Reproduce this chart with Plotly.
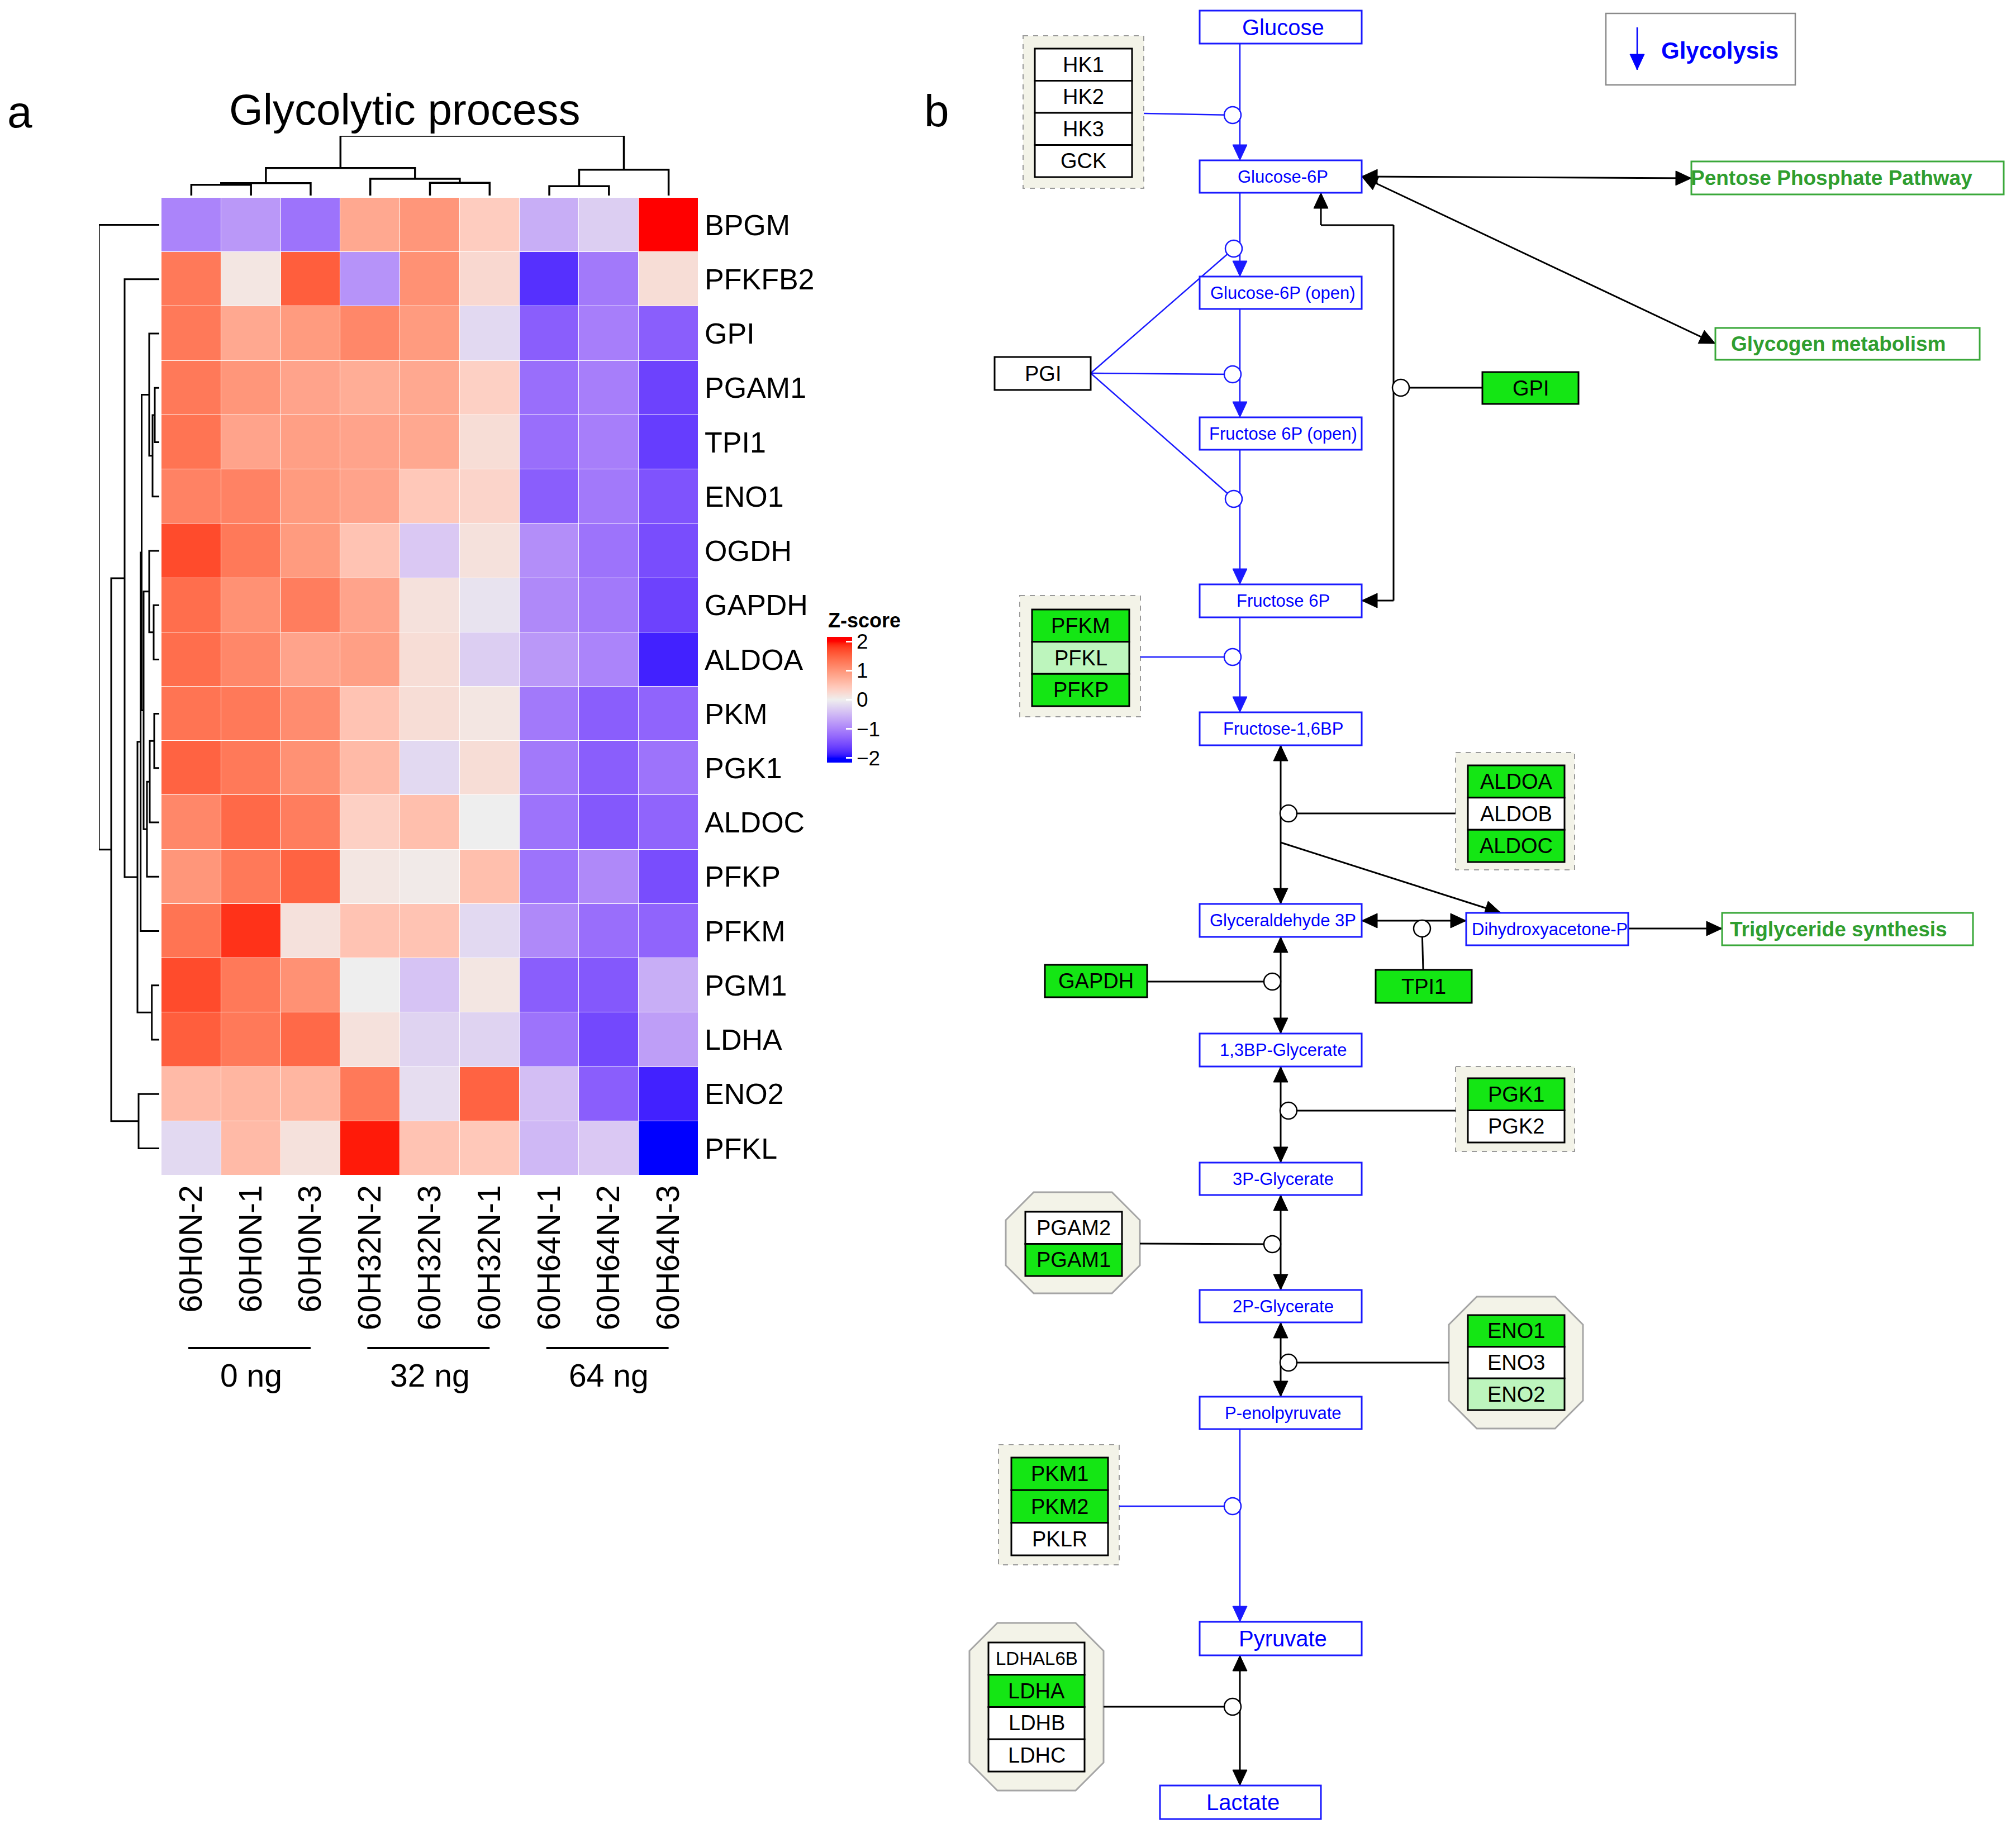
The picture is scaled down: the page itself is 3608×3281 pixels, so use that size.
import numpy as np
import plotly.graph_objects as go

W, H = 3608, 3281
OFF = 8  # page body margin of the html page shifts the figure by this many pixels

# ---------------- DATA ----------------
genes = ["BPGM", "PFKFB2", "GPI", "PGAM1", "TPI1", "ENO1", "OGDH", "GAPDH", "ALDOA",
         "PKM", "PGK1", "ALDOC", "PFKP", "PFKM", "PGM1", "LDHA", "ENO2", "PFKL"]
samples = ["60H0N-2", "60H0N-1", "60H0N-3", "60H32N-2", "60H32N-3", "60H32N-1",
           "60H64N-1", "60H64N-2", "60H64N-3"]
zscore = [
    [-1.00, -0.80, -1.15, 0.80, 1.00, 0.40, -0.60, -0.30, 2.10],
    [1.30, 0.10, 1.55, -0.85, 1.05, 0.25, -1.75, -1.10, 0.20],
    [1.30, 0.80, 0.95, 1.15, 0.95, -0.20, -1.35, -1.05, -1.35],
    [1.30, 1.00, 0.85, 0.75, 0.80, 0.35, -1.20, -1.05, -1.60],
    [1.35, 0.85, 0.90, 0.85, 0.80, 0.20, -1.20, -1.05, -1.65],
    [1.20, 1.20, 0.95, 0.85, 0.45, 0.30, -1.35, -1.10, -1.45],
    [1.70, 1.30, 0.95, 0.50, -0.35, 0.15, -0.90, -1.15, -1.50],
    [1.40, 1.05, 1.25, 0.85, 0.15, -0.10, -0.95, -1.10, -1.60],
    [1.40, 1.15, 0.85, 0.90, 0.20, -0.30, -0.80, -1.00, -1.85],
    [1.35, 1.30, 1.10, 0.50, 0.20, 0.10, -1.10, -1.35, -1.30],
    [1.50, 1.30, 1.05, 0.60, -0.20, 0.20, -1.10, -1.35, -1.15],
    [1.15, 1.45, 1.25, 0.35, 0.55, 0.00, -1.15, -1.40, -1.30],
    [1.00, 1.30, 1.50, 0.10, 0.05, 0.55, -1.15, -0.95, -1.50],
    [1.35, 1.85, 0.15, 0.50, 0.50, -0.20, -0.95, -1.20, -1.30],
    [1.70, 1.30, 1.05, 0.00, -0.40, 0.10, -1.35, -1.40, -0.60],
    [1.55, 1.30, 1.45, 0.15, -0.25, -0.25, -1.15, -1.55, -0.75],
    [0.60, 0.65, 0.65, 1.30, -0.15, 1.50, -0.45, -1.35, -1.85],
    [-0.20, 0.60, 0.15, 1.95, 0.50, 0.45, -0.50, -0.35, -2.10],
]
# hierarchical clustering merges: (child a, child b, merge height); "mK" = K-th merge
row_merges = [
    ("PGAM1", "TPI1", 8.0), ("m0", "ENO1", 12.0), ("GPI", "m1", 18.0),
    ("GAPDH", "ALDOA", 10.0), ("OGDH", "m3", 18.0), ("PKM", "PGK1", 9.0),
    ("m5", "ALDOC", 17.0), ("m6", "PFKP", 22.0), ("m4", "m7", 28.0),
    ("m2", "m8", 31.5), ("m9", "PFKM", 33.3), ("PGM1", "LDHA", 13.3),
    ("m10", "m11", 39.0), ("PFKFB2", "m12", 62.0), ("ENO2", "PFKL", 37.0),
    ("m13", "m14", 86.0), ("BPGM", "m15", 108.0),
]
col_merges = [
    ("60H0N-2", "60H0N-1", 19.3), ("m0", "60H0N-3", 22.3),
    ("60H32N-3", "60H32N-1", 22.7), ("60H32N-2", "m2", 30.0),
    ("m1", "m3", 49.0), ("60H64N-1", "60H64N-2", 16.7),
    ("m5", "60H64N-3", 46.0), ("m4", "m6", 106.7),
]
dose_groups = ["0 ng", "32 ng", "64 ng"]
group_samples = [["60H0N-2", "60H0N-1", "60H0N-3"],
                 ["60H32N-2", "60H32N-3", "60H32N-1"],
                 ["60H64N-1", "60H64N-2", "60H64N-3"]]
cbar_ticks = [-2, -1, 0, 1, 2]

# pathway content
metabolites = ["Glucose", "Glucose-6P", "Glucose-6P (open)", "Fructose 6P (open)",
               "Fructose 6P", "Fructose-1,6BP", "Glyceraldehyde 3P", "Dihydroxyacetone-P",
               "1,3BP-Glycerate", "3P-Glycerate", "2P-Glycerate", "P-enolpyruvate",
               "Pyruvate", "Lactate"]
side_pathways = ["Pentose Phosphate Pathway", "Glycogen metabolism", "Triglyceride synthesis"]
enzyme_groups = {
    "HK": ["HK1", "HK2", "HK3", "GCK"],
    "PGI": ["PGI"],
    "GPI": ["GPI"],
    "PFK": ["PFKM", "PFKL", "PFKP"],
    "ALDO": ["ALDOA", "ALDOB", "ALDOC"],
    "TPI": ["TPI1"],
    "GAPDH": ["GAPDH"],
    "PGK": ["PGK1", "PGK2"],
    "PGAM": ["PGAM2", "PGAM1"],
    "ENO": ["ENO1", "ENO3", "ENO2"],
    "PK": ["PKM1", "PKM2", "PKLR"],
    "LDH": ["LDHAL6B", "LDHA", "LDHB", "LDHC"],
}
gene_highlight = {"GPI": "strong", "PFKM": "strong", "PFKL": "weak", "PFKP": "strong",
                  "ALDOA": "strong", "ALDOC": "strong", "GAPDH": "strong", "TPI1": "strong",
                  "PGK1": "strong", "PGAM1": "strong", "ENO1": "strong", "ENO2": "weak",
                  "PKM1": "strong", "PKM2": "strong", "LDHA": "strong"}

# ---------------- LAYOUT GEOMETRY (pixels of the page) ----------------
met_box = {
    "Glucose": (2147, 19, 2437, 78, 40),
    "Glucose-6P": (2147, 287, 2437, 345, 31),
    "Glucose-6P (open)": (2147, 495, 2437, 553, 31),
    "Fructose 6P (open)": (2147, 747, 2437, 805, 31),
    "Fructose 6P": (2147, 1046, 2437, 1105, 31),
    "Fructose-1,6BP": (2147, 1275, 2437, 1334, 31),
    "Glyceraldehyde 3P": (2147, 1618, 2437, 1677, 31),
    "Dihydroxyacetone-P": (2624, 1634, 2914, 1692, 31),
    "1,3BP-Glycerate": (2147, 1850, 2437, 1909, 31),
    "3P-Glycerate": (2147, 2081, 2437, 2139, 31),
    "2P-Glycerate": (2147, 2309, 2437, 2367, 31),
    "P-enolpyruvate": (2147, 2500, 2437, 2558, 31),
    "Pyruvate": (2147, 2903, 2437, 2963, 40),
    "Lactate": (2076, 3196, 2364, 3256, 40),
}
side_box = {
    "Pentose Phosphate Pathway": (3027, 289, 3586, 348, 3278),
    "Glycogen metabolism": (3070, 587, 3543, 644, 3290),
    "Triglyceride synthesis": (3082, 1634, 3531, 1692, 3290),
}
group_geom = {  # frame type, frame box, cell box
    "HK": ("rect", (1831, 64, 2047, 337), (1852, 87, 2026, 317)),
    "PGI": (None, None, (1780, 639, 1952, 698)),
    "GPI": (None, None, (2653, 666, 2825, 723)),
    "PFK": ("rect", (1825, 1066, 2041, 1283), (1847, 1091, 2021, 1264)),
    "ALDO": ("rect", (2605, 1347, 2818, 1557), (2627, 1370, 2800, 1543)),
    "TPI": (None, None, (2462, 1736, 2634, 1795)),
    "GAPDH": (None, None, (1870, 1727, 2053, 1785)),
    "PGK": ("rect", (2605, 1909, 2818, 2061), (2627, 1930, 2800, 2045)),
    "PGAM": ("oct", (1800, 2134, 2040, 2315), (1835, 2169, 2008, 2284)),
    "ENO": ("oct", (2593, 2321, 2833, 2557), (2627, 2354, 2800, 2524)),
    "PK": ("rect", (1787, 2586, 2003, 2801), (1810, 2609, 1983, 2784)),
    "LDH": ("oct", (1735, 2905, 1975, 3205), (1769, 2940, 1941, 3171)),
}
catalysis = [  # enzyme, link start, circle centre, colour
    ("HK", (2047, 203), (2206, 206), "blue"),
    ("PGI", (1952, 668), (2208, 445), "blue"),
    ("PGI", (1952, 668), (2206, 670), "blue"),
    ("PGI", (1952, 668), (2208, 893), "blue"),
    ("GPI", (2653, 694), (2507, 694), "black"),
    ("PFK", (2041, 1176), (2206, 1176), "blue"),
    ("ALDO", (2605, 1456), (2306, 1456), "black"),
    ("TPI", (2547, 1736), (2545, 1662), "black"),
    ("GAPDH", (2053, 1757), (2277, 1757), "black"),
    ("PGK", (2605, 1988), (2306, 1988), "black"),
    ("PGAM", (2040, 2226), (2277, 2227), "black"),
    ("ENO", (2593, 2439), (2306, 2439), "black"),
    ("PK", (2003, 2696), (2206, 2696), "blue"),
    ("LDH", (1975, 3055), (2206, 3055), "black"),
]
main_chain = [  # from, to, x of line, colour, reversible
    ("Glucose", "Glucose-6P", 2219, "blue", False),
    ("Glucose-6P", "Glucose-6P (open)", 2219, "blue", False),
    ("Glucose-6P (open)", "Fructose 6P (open)", 2219, "blue", False),
    ("Fructose 6P (open)", "Fructose 6P", 2219, "blue", False),
    ("Fructose 6P", "Fructose-1,6BP", 2219, "blue", False),
    ("Fructose-1,6BP", "Glyceraldehyde 3P", 2292, "black", True),
    ("Glyceraldehyde 3P", "1,3BP-Glycerate", 2292, "black", True),
    ("1,3BP-Glycerate", "3P-Glycerate", 2292, "black", True),
    ("3P-Glycerate", "2P-Glycerate", 2292, "black", True),
    ("2P-Glycerate", "P-enolpyruvate", 2292, "black", True),
    ("P-enolpyruvate", "Pyruvate", 2219, "blue", False),
    ("Pyruvate", "Lactate", 2219, "black", True),
]

FONT = "Liberation Sans, Arial, Helvetica, sans-serif"
BLUE = "#0000ff"
C_LINE = {"blue": "#1a1aff", "black": "#000000"}
GENE_FILL = {"strong": "#14e614", "weak": "#bdf5bd", None: "#ffffff"}
SIDE_GREEN = "#2f9e2f"
FRAME_FILL = "#f3f3e8"


def fx(px):  # page pixel -> paper x
    return (px - OFF) / W


def fy(py):  # page pixel -> paper y
    return 1 - (py - OFF) / H


# ---------------- colour scale (LAB interpolation blue - #EEEEEE - red) ----------------
def srgb_to_lab(hexc):
    c = np.array([int(hexc[i:i + 2], 16) for i in (1, 3, 5)]) / 255.0
    lin = np.where(c <= 0.04045, c / 12.92, ((c + 0.055) / 1.055) ** 2.4)
    M = np.array([[0.4124564, 0.3575761, 0.1804375],
                  [0.2126729, 0.7151522, 0.0721750],
                  [0.0193339, 0.1191920, 0.9503041]])
    t = (M @ lin) / np.array([0.95047, 1.0, 1.08883])
    d = 6 / 29
    f = np.where(t > d ** 3, np.cbrt(t), t / (3 * d * d) + 4 / 29)
    return np.array([116 * f[1] - 16, 500 * (f[0] - f[1]), 200 * (f[1] - f[2])])


def lab_to_hex(lab):
    L, a, b = lab
    fyy = (L + 16) / 116
    f = np.array([fyy + a / 500, fyy, fyy - b / 200])
    d = 6 / 29
    t = np.where(f > d, f ** 3, 3 * d * d * (f - 4 / 29)) * np.array([0.95047, 1.0, 1.08883])
    Minv = np.array([[3.2404542, -1.5371385, -0.4985314],
                     [-0.9692660, 1.8760108, 0.0415560],
                     [0.0556434, -0.2040259, 1.0572252]])
    lin = np.clip(Minv @ t, 0, 1)
    c = np.where(lin <= 0.0031308, 12.92 * lin, 1.055 * lin ** (1 / 2.4) - 0.055)
    c = np.clip(np.round(c * 255), 0, 255).astype(int)
    return "#%02x%02x%02x" % tuple(c)


LAB_LO, LAB_MID, LAB_HI = srgb_to_lab("#0000ff"), srgb_to_lab("#eeeeee"), srgb_to_lab("#ff0000")


def zcolor(v):
    v = max(-2.0, min(2.0, v))
    if v <= 0:
        t = (v + 2) / 2
        return lab_to_hex(LAB_LO * (1 - t) + LAB_MID * t)
    t = v / 2
    return lab_to_hex(LAB_MID * (1 - t) + LAB_HI * t)


ZMIN, ZMAX = -2.16, 2.16
cs = [[float(p), zcolor(ZMIN + p * (ZMAX - ZMIN))] for p in np.linspace(0, 1, 61)]


# ---------------- dendrograms ----------------
def dendro_lines(leaves, merges):
    pos = {n: float(i) for i, n in enumerate(leaves)}
    hgt = {n: 0.0 for n in leaves}
    P, Hh = [], []
    for k, (a, b, h) in enumerate(merges):
        P += [pos[a], pos[a], pos[b], pos[b], None]
        Hh += [hgt[a], h, h, hgt[b], None]
        pos[f"m{k}"] = (pos[a] + pos[b]) / 2
        hgt[f"m{k}"] = h
    return P, Hh


CB_Y0, CB_LEN = 1365, 225  # colour bar bottom (page px) and length

fig = go.Figure()
fig.add_trace(go.Heatmap(
    z=zscore, x=samples, y=genes, colorscale=cs, zmin=ZMIN, zmax=ZMAX,
    xgap=1, ygap=1, hoverinfo="skip",
    colorbar=dict(x=fx(1480), xanchor="left", xref="paper", y=fy(CB_Y0), yanchor="bottom",
                  yref="paper", len=CB_LEN, lenmode="pixels", thickness=45,
                  thicknessmode="pixels", xpad=0, ypad=0, outlinewidth=0, ticks="inside",
                  ticklen=11, tickwidth=3, tickcolor="white", tickvals=cbar_ticks,
                  tickfont=dict(size=37, family=FONT, color="black")),
))

rP, rH = dendro_lines(genes, row_merges)
fig.add_trace(go.Scatter(x=rH, y=rP, xaxis="x2", yaxis="y2", mode="lines",
                         line=dict(color="black", width=3), cliponaxis=False,
                         hoverinfo="skip", showlegend=False))
cP, cH = dendro_lines(samples, col_merges)
fig.add_trace(go.Scatter(x=cP, y=cH, xaxis="x3", yaxis="y3", mode="lines",
                         line=dict(color="black", width=3.5), cliponaxis=False,
                         hoverinfo="skip", showlegend=False))

shapes, annots = [], []
OV = dict(xref="x4", yref="y4")


def add_line(x0, y0, x1, y1, color, width):
    shapes.append(dict(type="line", x0=x0, y0=y0, x1=x1, y1=y1,
                       line=dict(color=color, width=width), **OV))


def add_head(tip, frm, color, L=28, Wd=13):
    tx, ty = tip
    dx, dy = tx - frm[0], ty - frm[1]
    n = (dx * dx + dy * dy) ** 0.5
    ux, uy = dx / n, dy / n
    bx, by = tx - ux * L, ty - uy * L
    px, py = -uy * Wd, ux * Wd
    path = f"M{tx},{ty} L{bx + px},{by + py} L{bx - px},{by - py} Z"
    shapes.append(dict(type="path", path=path, fillcolor=color,
                       line=dict(color=color, width=1), **OV))


def add_arrow(p0, p1, color, width, start=False, end=True):
    add_line(p0[0], p0[1], p1[0], p1[1], color, width)
    if end:
        add_head(p1, p0, color)
    if start:
        add_head(p0, p1, color)


def add_text(x, y, s, size, color="black", bold=False, xanchor="center"):
    annots.append(dict(x=x, y=y, text=f"<b>{s}</b>" if bold else s, showarrow=False,
                       xanchor=xanchor, yanchor="middle",
                       font=dict(size=size, color=color, family=FONT), **OV))


# ----- heatmap annotations -----
add_text(724, 196, "Glycolytic process", 78)
add_text(35, 200, "a", 80)
add_text(1676, 198, "b", 80)
add_text(1480, 1110, "Z-score", 36, bold=True, xanchor="left")
for v in cbar_ticks:
    yp = fy(CB_Y0) + (v - ZMIN) / (ZMAX - ZMIN) * (CB_LEN / H)
    shapes.append(dict(type="line", xref="paper", yref="paper", x0=fx(1480), x1=fx(1491),
                       y0=yp, y1=yp, line=dict(color="white", width=3)))
for g, members in zip(dose_groups, group_samples):
    idx = [samples.index(m) for m in members]
    shapes.append(dict(type="line", xref="x3", yref="y4", x0=min(idx) - 0.05, x1=max(idx),
                       y0=2413, y1=2413, line=dict(color="black", width=4)))
    annots.append(dict(x=float(np.mean(idx)), y=2462, xref="x3", yref="y4", text=g,
                       showarrow=False, font=dict(size=57, family=FONT, color="black")))

# ----- pathway: frames -----
for name, (ftype, fb, cb) in group_geom.items():
    if ftype == "rect":
        x0, y0, x1, y1 = fb
        shapes.append(dict(type="rect", x0=x0, y0=y0, x1=x1, y1=y1, fillcolor=FRAME_FILL,
                           line=dict(color="#9a9a9a", width=2, dash="dash"), **OV))
    elif ftype == "oct":
        x0, y0, x1, y1 = fb
        c = 50
        path = (f"M{x0 + c},{y0} L{x1 - c},{y0} L{x1},{y0 + c} L{x1},{y1 - c} L{x1 - c},{y1} "
                f"L{x0 + c},{y1} L{x0},{y1 - c} L{x0},{y0 + c} Z")
        shapes.append(dict(type="path", path=path, fillcolor=FRAME_FILL,
                           line=dict(color="#a5a5a5", width=3), **OV))

# ----- pathway: catalysis links -----
for enz, st, cc, col in catalysis:
    add_line(st[0], st[1], cc[0], cc[1], C_LINE[col], 2.5 if col == "blue" else 3)

# ----- pathway: reactions -----
for a, b, x, col, rev in main_chain:
    add_arrow((x, met_box[a][3]), (x, met_box[b][1]), C_LINE[col],
              2.5 if col == "blue" else 3, start=rev, end=True)

add_arrow((2437, 316), (3027, 319), "black", 3, start=True)
add_arrow((2437, 316), (3070, 615), "black", 3, start=True)
loop = [(2437, 1075), (2494, 1075), (2494, 403), (2364, 403), (2364, 345)]
for (xa, ya), (xb, yb) in zip(loop[:-1], loop[1:]):
    add_line(xa, ya, xb, yb, "black", 3)
add_head(loop[0], loop[1], "black")
add_head(loop[-1], loop[-2], "black")
add_arrow((2292, 1508), (2686, 1634), "black", 3)
add_arrow((2437, 1648), (2624, 1648), "black", 3, start=True)
add_arrow((2914, 1662), (3082, 1662), "black", 3)

# legend
shapes.append(dict(type="rect", x0=2874, y0=24, x1=3213, y1=152, fillcolor="white",
                   line=dict(color="#8a8a8a", width=2.5), **OV))
add_arrow((2930, 49), (2930, 125), BLUE, 2.5)
add_text(3078, 90, "Glycolysis", 42, color=BLUE, bold=True)

# ----- pathway: metabolite boxes -----
for m in metabolites:
    x0, y0, x1, y1, fs = met_box[m]
    shapes.append(dict(type="rect", x0=x0, y0=y0, x1=x1, y1=y1, fillcolor="white",
                       line=dict(color=C_LINE["blue"], width=3), **OV))
    add_text((x0 + x1) / 2 + 4, (y0 + y1) / 2, m, fs, color=BLUE)

for s in side_pathways:
    x0, y0, x1, y1, tx = side_box[s]
    shapes.append(dict(type="rect", x0=x0, y0=y0, x1=x1, y1=y1, fillcolor="white",
                       line=dict(color="#3aa83a", width=3), **OV))
    add_text(tx, (y0 + y1) / 2, s, 37, color=SIDE_GREEN, bold=True)

# ----- pathway: gene boxes -----
for name, glist in enzyme_groups.items():
    ftype, fb, (x0, y0, x1, y1) = group_geom[name]
    step = (y1 - y0) / len(glist)
    for i, g in enumerate(glist):
        gy0, gy1 = y0 + i * step, y0 + (i + 1) * step
        shapes.append(dict(type="rect", x0=x0, y0=gy0, x1=x1, y1=gy1,
                           fillcolor=GENE_FILL[gene_highlight.get(g)],
                           line=dict(color="black", width=3), **OV))
        fs = 38 if len(g) <= 5 else 33
        add_text((x0 + x1) / 2, (gy0 + gy1) / 2, g, fs)

# ----- pathway: catalysis circles (on top) -----
for enz, st, (cx, cy), col in catalysis:
    r = 15
    shapes.append(dict(type="circle", x0=cx - r, y0=cy - r, x1=cx + r, y1=cy + r,
                       fillcolor="white", line=dict(color=C_LINE[col], width=2.5), **OV))

noax = dict(visible=False, showgrid=False, zeroline=False, fixedrange=True)
HM_X = [fx(289), fx(1250)]
HM_Y = [fy(2104), fy(354)]
fig.update_layout(
    width=W, height=H, margin=dict(l=0, r=0, t=0, b=0),
    paper_bgcolor="white", plot_bgcolor="rgba(0,0,0,0)",
    font=dict(family=FONT, color="black"),
    showlegend=False,
    xaxis=dict(domain=HM_X, anchor="y", tickangle=-90, showgrid=False,
               zeroline=False, showline=False, ticks="", ticklabelstandoff=5,
               tickfont=dict(size=57, family=FONT, color="black"), range=[-0.5, 8.5]),
    yaxis=dict(domain=HM_Y, anchor="x", side="right", showgrid=False,
               zeroline=False, showline=False, ticks="", range=[17.5, -0.5],
               ticklabelstandoff=10, tickfont=dict(size=52, family=FONT, color="black")),
    xaxis2=dict(domain=[fx(177), fx(285)], anchor="y2", range=[108, 0], **noax),
    yaxis2=dict(domain=HM_Y, anchor="x2", range=[17.5, -0.5], **noax),
    xaxis3=dict(domain=HM_X, anchor="y3", range=[-0.5, 8.5], **noax),
    yaxis3=dict(domain=[fy(350), fy(243)], anchor="x3", range=[0, 106.7], **noax),
    xaxis4=dict(domain=[0, 1], anchor="y4", range=[OFF, W + OFF], **noax),
    yaxis4=dict(domain=[0, 1], anchor="x4", range=[H + OFF, OFF], **noax),
    shapes=shapes, annotations=annots,
)

fig.write_html("out.html")
